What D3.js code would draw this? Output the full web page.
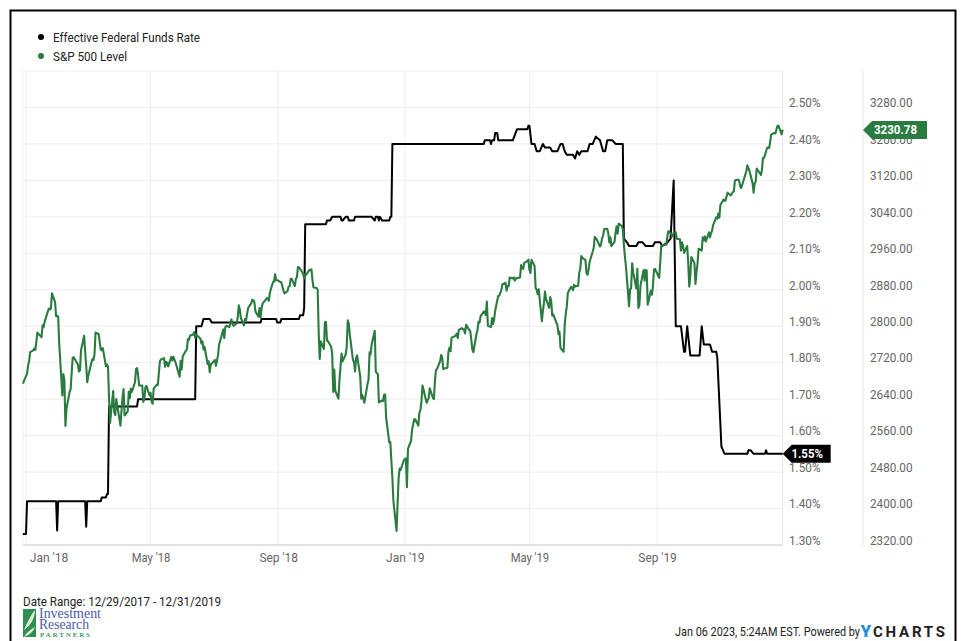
<!DOCTYPE html>
<html><head><meta charset="utf-8">
<script src="https://cdn.jsdelivr.net/npm/d3@7"></script>
<style>html,body{margin:0;padding:0;background:#fff}svg{display:block}text{font-family:Roboto,sans-serif}</style>
</head><body><svg id="c" width="963" height="641"></svg>
<script>
const seriesNames = ["Effective Federal Funds Rate", "S&P 500 Level"];
const seriesColors = ["#000000", "#2a7b40"];
const rateTicks = [1.3,1.4,1.5,1.6,1.7,1.8,1.9,2.0,2.1,2.2,2.3,2.4,2.5];
const spTicks = [2320,2400,2480,2560,2640,2720,2800,2880,2960,3040,3120,3200,3280];
const monthTicks = ["18-01-01","18-05-01","18-09-01","19-01-01","19-05-01","19-09-01"];
const monthLabels = ["Jan '18","May '18","Sep '18","Jan '19","May '19","Sep '19"];

const rateDates = ["17-12-29","18-01-01","18-01-02","18-01-30","18-01-31","18-02-01","18-02-27","18-02-28","18-03-01","18-03-14","18-03-15","18-03-19","18-03-20","18-03-21","18-03-22","18-04-18","18-04-19","18-06-13","18-06-14","18-06-19","18-06-21","18-06-27","18-06-29","18-08-15","18-08-16","18-08-30","18-08-31","18-09-03","18-09-04","18-09-21","18-09-22","18-09-25","18-09-26","18-09-27","18-10-17","18-10-18","18-10-21","18-10-23","18-10-31","18-11-01","18-11-02","18-11-05","18-11-07","18-11-08","18-11-13","18-11-14","18-11-30","18-12-03","18-12-04","18-12-06","18-12-07","18-12-08","18-12-10","18-12-17","18-12-18","18-12-19","18-12-20","19-03-18","19-03-19","19-03-24","19-03-25","19-03-26","19-03-28","19-03-29","19-03-31","19-04-01","19-04-15","19-04-19","19-04-29","19-04-30","19-05-01","19-05-03","19-05-06","19-05-08","19-05-11","19-05-14","19-05-16","19-05-21","19-05-23","19-05-28","19-05-31","19-06-02","19-06-04","19-06-06","19-06-12","19-06-14","19-06-16","19-06-18","19-06-20","19-06-26","19-06-28","19-07-01","19-07-04","19-07-08","19-07-11","19-07-13","19-07-15","19-07-20","19-07-23","19-07-30","19-07-31","19-08-03","19-08-05","19-08-12","19-08-14","19-08-18","19-08-21","19-08-28","19-08-30","19-09-04","19-09-06","19-09-11","19-09-14","19-09-17","19-09-19","19-09-24","19-09-27","19-09-28","19-09-30","19-10-03","19-10-12","19-10-14","19-10-16","19-10-22","19-10-24","19-10-28","19-10-29","19-11-02","19-11-05","19-11-27","19-11-28","19-11-30","19-12-03","19-12-14","19-12-15","19-12-16","19-12-31"];
const rateValues = [1.33,1.33,1.42,1.42,1.34,1.42,1.42,1.35,1.42,1.42,1.43,1.43,1.44,1.44,1.68,1.68,1.70,1.70,1.90,1.90,1.92,1.92,1.91,1.91,1.92,1.92,1.91,1.91,1.92,1.92,1.93,1.93,1.95,2.18,2.18,2.19,2.19,2.20,2.20,2.19,2.19,2.20,2.20,2.19,2.19,2.20,2.20,2.19,2.20,2.20,2.19,2.20,2.19,2.19,2.20,2.20,2.40,2.40,2.41,2.41,2.40,2.41,2.41,2.43,2.43,2.41,2.41,2.44,2.44,2.45,2.45,2.40,2.40,2.38,2.38,2.40,2.39,2.39,2.38,2.38,2.40,2.40,2.38,2.37,2.37,2.36,2.38,2.37,2.38,2.38,2.40,2.40,2.42,2.41,2.38,2.38,2.41,2.41,2.40,2.40,2.14,2.13,2.12,2.12,2.13,2.13,2.12,2.12,2.13,2.13,2.12,2.13,2.14,2.30,1.90,1.90,1.83,1.83,1.90,1.82,1.82,1.90,1.85,1.85,1.83,1.83,1.815,1.57,1.55,1.55,1.56,1.56,1.55,1.55,1.56,1.55,1.55];

const spDates = ["17-12-29","18-01-02","18-01-03","18-01-04","18-01-05","18-01-08","18-01-09","18-01-10","18-01-11","18-01-12","18-01-16","18-01-17","18-01-18","18-01-19","18-01-22","18-01-23","18-01-24","18-01-25","18-01-26","18-01-29","18-01-30","18-01-31","18-02-01","18-02-02","18-02-05","18-02-06","18-02-07","18-02-08","18-02-09","18-02-12","18-02-13","18-02-14","18-02-15","18-02-16","18-02-20","18-02-21","18-02-22","18-02-23","18-02-26","18-02-27","18-02-28","18-03-01","18-03-02","18-03-05","18-03-06","18-03-07","18-03-08","18-03-09","18-03-12","18-03-13","18-03-14","18-03-15","18-03-16","18-03-19","18-03-20","18-03-21","18-03-22","18-03-23","18-03-26","18-03-27","18-03-28","18-03-29","18-04-02","18-04-03","18-04-04","18-04-05","18-04-06","18-04-09","18-04-10","18-04-11","18-04-12","18-04-13","18-04-16","18-04-17","18-04-18","18-04-19","18-04-20","18-04-23","18-04-24","18-04-25","18-04-26","18-04-27","18-04-30","18-05-01","18-05-02","18-05-03","18-05-04","18-05-07","18-05-08","18-05-09","18-05-10","18-05-11","18-05-14","18-05-15","18-05-16","18-05-17","18-05-18","18-05-21","18-05-22","18-05-23","18-05-24","18-05-25","18-05-29","18-05-30","18-05-31","18-06-01","18-06-04","18-06-05","18-06-06","18-06-07","18-06-08","18-06-11","18-06-12","18-06-13","18-06-14","18-06-15","18-06-18","18-06-19","18-06-20","18-06-21","18-06-22","18-06-25","18-06-26","18-06-27","18-06-28","18-06-29","18-07-02","18-07-03","18-07-05","18-07-06","18-07-09","18-07-10","18-07-11","18-07-12","18-07-13","18-07-16","18-07-17","18-07-18","18-07-19","18-07-20","18-07-23","18-07-24","18-07-25","18-07-26","18-07-27","18-07-30","18-07-31","18-08-01","18-08-02","18-08-03","18-08-06","18-08-07","18-08-08","18-08-09","18-08-10","18-08-13","18-08-14","18-08-15","18-08-16","18-08-17","18-08-20","18-08-21","18-08-22","18-08-23","18-08-24","18-08-27","18-08-28","18-08-29","18-08-30","18-08-31","18-09-04","18-09-05","18-09-06","18-09-07","18-09-10","18-09-11","18-09-12","18-09-13","18-09-14","18-09-17","18-09-18","18-09-19","18-09-20","18-09-21","18-09-24","18-09-25","18-09-26","18-09-27","18-09-28","18-10-01","18-10-02","18-10-03","18-10-04","18-10-05","18-10-08","18-10-09","18-10-10","18-10-11","18-10-12","18-10-15","18-10-16","18-10-17","18-10-18","18-10-19","18-10-22","18-10-23","18-10-24","18-10-25","18-10-26","18-10-29","18-10-30","18-10-31","18-11-01","18-11-02","18-11-05","18-11-06","18-11-07","18-11-08","18-11-09","18-11-12","18-11-13","18-11-14","18-11-15","18-11-16","18-11-19","18-11-20","18-11-21","18-11-23","18-11-26","18-11-27","18-11-28","18-11-29","18-11-30","18-12-03","18-12-04","18-12-06","18-12-07","18-12-10","18-12-11","18-12-12","18-12-13","18-12-14","18-12-17","18-12-18","18-12-19","18-12-20","18-12-21","18-12-24","18-12-26","18-12-27","18-12-28","18-12-31","19-01-02","19-01-03","19-01-04","19-01-07","19-01-08","19-01-09","19-01-10","19-01-11","19-01-14","19-01-15","19-01-16","19-01-17","19-01-18","19-01-22","19-01-23","19-01-24","19-01-25","19-01-28","19-01-29","19-01-30","19-01-31","19-02-01","19-02-04","19-02-05","19-02-06","19-02-07","19-02-08","19-02-11","19-02-12","19-02-13","19-02-14","19-02-15","19-02-19","19-02-20","19-02-21","19-02-22","19-02-25","19-02-26","19-02-27","19-02-28","19-03-01","19-03-04","19-03-05","19-03-06","19-03-07","19-03-08","19-03-11","19-03-12","19-03-13","19-03-14","19-03-15","19-03-18","19-03-19","19-03-20","19-03-21","19-03-22","19-03-25","19-03-26","19-03-27","19-03-28","19-03-29","19-04-01","19-04-02","19-04-03","19-04-04","19-04-05","19-04-08","19-04-09","19-04-10","19-04-11","19-04-12","19-04-15","19-04-16","19-04-17","19-04-18","19-04-22","19-04-23","19-04-24","19-04-25","19-04-26","19-04-29","19-04-30","19-05-01","19-05-02","19-05-03","19-05-06","19-05-07","19-05-08","19-05-09","19-05-10","19-05-13","19-05-14","19-05-15","19-05-16","19-05-17","19-05-20","19-05-21","19-05-22","19-05-23","19-05-24","19-05-28","19-05-29","19-05-30","19-05-31","19-06-03","19-06-04","19-06-05","19-06-06","19-06-07","19-06-10","19-06-11","19-06-12","19-06-13","19-06-14","19-06-17","19-06-18","19-06-19","19-06-20","19-06-21","19-06-24","19-06-25","19-06-26","19-06-27","19-06-28","19-07-01","19-07-02","19-07-03","19-07-05","19-07-08","19-07-09","19-07-10","19-07-11","19-07-12","19-07-15","19-07-16","19-07-17","19-07-18","19-07-19","19-07-22","19-07-23","19-07-24","19-07-25","19-07-26","19-07-29","19-07-30","19-07-31","19-08-01","19-08-02","19-08-05","19-08-06","19-08-07","19-08-08","19-08-09","19-08-12","19-08-13","19-08-14","19-08-15","19-08-16","19-08-19","19-08-20","19-08-21","19-08-22","19-08-23","19-08-26","19-08-27","19-08-28","19-08-29","19-08-30","19-09-03","19-09-04","19-09-05","19-09-06","19-09-09","19-09-10","19-09-11","19-09-12","19-09-13","19-09-16","19-09-17","19-09-18","19-09-19","19-09-20","19-09-23","19-09-24","19-09-25","19-09-26","19-09-27","19-09-30","19-10-01","19-10-02","19-10-03","19-10-04","19-10-07","19-10-08","19-10-09","19-10-10","19-10-11","19-10-14","19-10-15","19-10-16","19-10-17","19-10-18","19-10-21","19-10-22","19-10-23","19-10-24","19-10-25","19-10-28","19-10-29","19-10-30","19-10-31","19-11-01","19-11-04","19-11-05","19-11-06","19-11-07","19-11-08","19-11-11","19-11-12","19-11-13","19-11-14","19-11-15","19-11-18","19-11-19","19-11-20","19-11-21","19-11-22","19-11-25","19-11-26","19-11-27","19-11-29","19-12-02","19-12-03","19-12-04","19-12-05","19-12-06","19-12-09","19-12-10","19-12-11","19-12-12","19-12-13","19-12-16","19-12-17","19-12-18","19-12-19","19-12-20","19-12-23","19-12-24","19-12-26","19-12-27","19-12-30","19-12-31"];
const spValues = [2674,2696,2713,2723,2743,2747,2751,2748,2767,2786,2776,2802,2798,2810,2832,2839,2837,2839,2872,2853,2822,2823,2821,2762,2648,2695,2681,2581,2619,2656,2662,2698,2731,2732,2716,2701,2703,2747,2779,2744,2713,2677,2691,2720,2728,2726,2738,2786,2783,2765,2749,2747,2752,2712,2716,2711,2643,2588,2658,2612,2605,2640,2582,2614,2644,2662,2604,2613,2656,2642,2663,2656,2677,2706,2708,2693,2670,2670,2634,2639,2666,2669,2648,2654,2635,2630,2663,2672,2671,2697,2723,2727,2730,2711,2722,2720,2712,2733,2725,2733,2727,2721,2689,2724,2705,2734,2746,2749,2772,2770,2779,2782,2787,2775,2782,2779,2773,2762,2767,2749,2755,2717,2723,2699,2716,2718,2726,2713,2736,2759,2784,2793,2774,2798,2801,2798,2809,2815,2804,2801,2806,2820,2846,2837,2818,2802,2816,2813,2827,2840,2850,2858,2857,2853,2833,2821,2840,2819,2840,2850,2858,2862,2861,2856,2874,2897,2898,2914,2901,2901,2896,2888,2878,2872,2877,2887,2888,2904,2904,2888,2904,2907,2930,2929,2919,2915,2905,2914,2913,2924,2923,2925,2901,2885,2884,2880,2785,2728,2767,2750,2809,2809,2768,2767,2755,2740,2656,2705,2658,2641,2682,2711,2740,2723,2738,2755,2813,2806,2781,2726,2722,2701,2730,2736,2690,2641,2649,2632,2673,2682,2743,2738,2760,2790,2700,2695,2633,2637,2636,2650,2650,2599,2545,2546,2506,2467,2416,2351,2467,2488,2485,2506,2510,2447,2531,2549,2574,2584,2596,2596,2582,2610,2616,2635,2670,2632,2638,2642,2664,2643,2640,2681,2704,2706,2724,2737,2731,2706,2707,2709,2744,2753,2745,2775,2779,2784,2774,2792,2796,2793,2793,2784,2803,2792,2789,2771,2749,2743,2783,2792,2810,2808,2822,2832,2832,2824,2854,2801,2798,2818,2805,2815,2834,2867,2867,2873,2880,2892,2895,2878,2888,2888,2907,2905,2907,2900,2905,2907,2934,2927,2926,2939,2943,2946,2924,2917,2946,2932,2884,2880,2870,2881,2811,2834,2850,2876,2860,2840,2864,2856,2823,2826,2802,2783,2788,2752,2744,2803,2826,2843,2873,2886,2885,2879,2891,2887,2889,2917,2926,2954,2950,2945,2917,2913,2924,2941,2964,2973,2996,2990,2975,2979,2993,2999,3013,3014,3004,2984,2995,2976,2985,3005,3019,3003,3025,3020,3013,2980,2953,2932,2844,2881,2883,2938,2918,2883,2926,2840,2847,2889,2923,2900,2924,2922,2847,2878,2869,2887,2924,2926,2906,2937,2976,2978,2979,2979,2999,3009,3007,2997,3005,3006,3006,2992,2991,2966,2984,2977,2961,2976,2940,2887,2910,2952,2938,2893,2919,2938,2970,2966,2995,2989,2997,2986,3006,2995,3004,3010,3022,3039,3036,3047,3038,3066,3078,3075,3076,3085,3093,3087,3091,3094,3096,3120,3122,3120,3108,3103,3110,3133,3140,3153,3141,3114,3093,3113,3117,3146,3136,3132,3142,3169,3169,3191,3192,3191,3205,3221,3224,3223,3240,3240,3221,3231];

const rateLast = rateValues[rateValues.length-1];
const spLast = 3230.78;
const dateRangeText = "Date Range: 12/29/2017 - 12/31/2019";
const stampText = "Jan 06 2023, 5:24AM EST. Powered by";

const parse = d3.utcParse("%y-%m-%d");
const svg = d3.select("#c");
const L = 23, R = 782.7, T = 71, B = 545, R2 = 863;

const x = d3.scaleUtc().domain([parse("18-01-01"), parse("20-01-01")]).range([26, 783.7]);
const yRate = d3.scaleLinear().domain([1.3, 2.6]).range([B, T]);
const ySp = d3.scaleLinear().domain([2320, 2320 + 80*13]).range([B, T]);

svg.append("path").attr("d", `M10.5 641V10.5H955.5V641`).attr("fill","none").attr("stroke","#000").attr("stroke-width",2);

const grid = svg.append("g").attr("stroke","#eeeeee").attr("stroke-width",1).attr("fill","none");
[...rateTicks, 2.6].forEach(t => grid.append("line").attr("x1",L).attr("x2",R).attr("y1",yRate(t)).attr("y2",yRate(t)));
monthTicks.forEach(t => grid.append("line").attr("x1",x(parse(t))).attr("x2",x(parse(t))).attr("y1",T).attr("y2",B));
grid.append("line").attr("x1",L).attr("x2",L).attr("y1",T).attr("y2",B);
grid.append("line").attr("x1",R).attr("x2",R).attr("y1",T).attr("y2",B).attr("stroke","#e6e6e6");
grid.append("line").attr("x1",R2).attr("x2",R2).attr("y1",T).attr("y2",B).attr("stroke","#e6e6e6");
grid.append("line").attr("x1",L).attr("x2",R).attr("y1",B).attr("y2",B).attr("stroke","#dddddd").attr("stroke-width",1.5);

const line = (y) => d3.line().x(d => x(d[0])).y(d => y(d[1]));
const rateData = rateDates.map((d,i) => [parse(d), rateValues[i]]);
const spData = spDates.map((d,i) => [parse(d), spValues[i]]);
svg.append("path").datum(rateData).attr("d", line(yRate)).attr("fill","none").attr("stroke",seriesColors[0]).attr("stroke-width",2).attr("stroke-linejoin","round");
svg.append("path").datum(spData).attr("d", line(ySp)).attr("fill","none").attr("stroke",seriesColors[1]).attr("stroke-width",2.1).attr("stroke-linejoin","round");

const squeeze = (sel, w) => sel.attr("textLength", w).attr("lengthAdjust","spacingAndGlyphs");
function styleAxis(g, anchor){
  g.select(".domain").remove();
  g.selectAll(".tick line").remove();
  g.selectAll("text").attr("fill","#666").style("font-size","13px").style("font-family","Roboto,sans-serif").attr("text-anchor",anchor);
}
const ra = svg.append("g").attr("transform",`translate(789,0)`)
  .call(d3.axisRight(yRate).tickValues(rateTicks).tickSize(0).tickPadding(0).tickFormat(d => d3.format(".2f")(d)+"%"))
  .call(g => styleAxis(g,"start"));
ra.selectAll("text").attr("dy","-0.06em").call(squeeze, 31.5);
const sa = svg.append("g").attr("transform",`translate(870,0)`)
  .call(d3.axisRight(ySp).tickValues(spTicks).tickSize(0).tickPadding(0).tickFormat(d3.format(".2f")))
  .call(g => styleAxis(g,"start"));
sa.selectAll("text").attr("dy","-0.06em").call(squeeze, 42.5);
const xAxis = svg.append("g").attr("transform",`translate(0,545)`)
  .call(d3.axisBottom(x).tickValues(monthTicks.map(parse)).tickSize(0).tickPadding(0).tickFormat((d,i)=>monthLabels[i]))
  .call(g => styleAxis(g,"middle"));
xAxis.selectAll("text").attr("y",17).attr("dy",0).call(squeeze, 38.5);
xAxis.selectAll("text").filter((d,i)=>i===0).attr("dx",22.5);

function tag(tipX, cy, w, fill, label, tw){
  const h = 9;
  svg.append("path").attr("d",`M${tipX} ${cy}L${tipX+9} ${cy-h}H${tipX+w}V${cy+h}H${tipX+9}Z`).attr("fill",fill);
  svg.append("text").attr("x",tipX+w/2+0.5).attr("y",cy+4.5).attr("text-anchor","middle").attr("fill","#fff")
    .style("font-size","13px").style("font-weight",700).text(label).call(squeeze, tw);
}
tag(R2, ySp(spLast), 64, seriesColors[1], d3.format(".2f")(spLast), 43);
tag(R, yRate(rateLast), 48, "#000", d3.format(".2f")(rateLast)+"%", 31.5);

const legendWidths = [147, 74];
seriesNames.forEach((n,i)=>{
  const cy = 37 + i*19;
  svg.append("circle").attr("cx",41).attr("cy",cy).attr("r",3).attr("fill",seriesColors[i]);
  svg.append("text").attr("x",53).attr("y",cy+4.5).attr("fill","#222").style("font-size","13px").text(n).call(squeeze, legendWidths[i]);
});

svg.append("text").attr("x",23).attr("y",606).attr("fill","#222").style("font-size","13px").text(dateRangeText).call(squeeze, 198);
svg.append("text").attr("x",675).attr("y",636).attr("fill","#222").style("font-size","13px").text(stampText).call(squeeze, 185);
svg.append("text").attr("x",860.5).attr("y",637).attr("fill","#1f8fd6").style("font-size","17px").style("font-weight",900).text("Y");
svg.append("text").attr("x",873).attr("y",637).attr("fill","#222").style("font-size","15px").style("font-weight",700).text("CHARTS").call(g => g.attr("textLength",72).attr("lengthAdjust","spacing"));

svg.append("rect").attr("x",23).attr("y",609).attr("width",13).attr("height",28).attr("fill","#2f8f4e");
svg.append("path").attr("d","M24 630C27 622 31 615 35 610C35 618 31 625 24 630Z").attr("fill","#dff0d8");
svg.append("path").attr("d","M24 637C27 632 31 629 35 627C33 632 29 635 24 637Z").attr("fill","#dff0d8");
const serif = "'Liberation Serif',serif";
svg.append("text").attr("x",39).attr("y",617.5).attr("fill","#4b5ba6").style("font-family",serif).style("font-size","14px").text("Investment").call(squeeze, 62);
svg.append("text").attr("x",39).attr("y",628.5).attr("fill","#4b5ba6").style("font-family",serif).style("font-size","14px").text("Research").call(squeeze, 50);
svg.append("text").attr("x",40).attr("y",637).attr("fill","#3f9a63").style("font-family",serif).style("font-size","7px").style("font-weight",700).text("PARTNERS").call(g => g.attr("textLength",50).attr("lengthAdjust","spacing"));
</script></body></html>
